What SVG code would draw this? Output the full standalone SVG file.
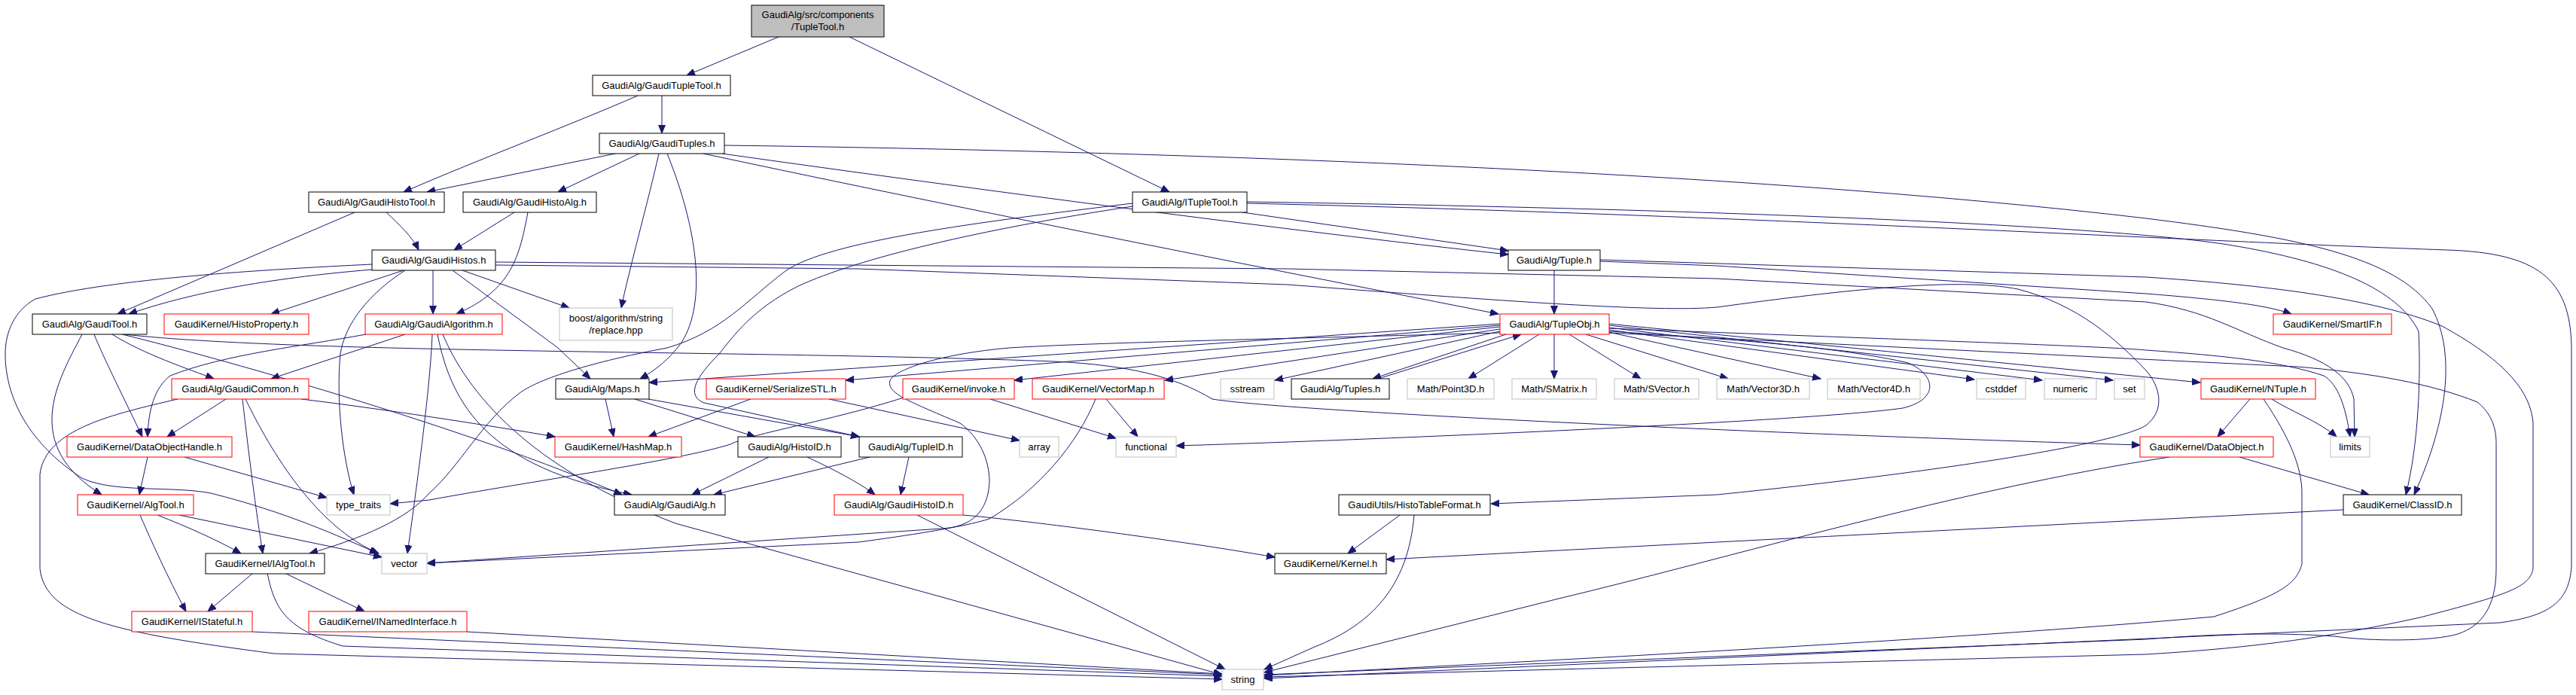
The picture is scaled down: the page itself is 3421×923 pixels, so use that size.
<svg xmlns="http://www.w3.org/2000/svg" width="3421" height="923" viewBox="0 0 3421 923">
<defs>
<marker id="ah" markerWidth="12" markerHeight="10" refX="11" refY="4.5" orient="auto" markerUnits="userSpaceOnUse">
<path d="M0,0 L11,4.5 L0,9 z" fill="#191970" stroke="#191970" stroke-width="1"/>
</marker>
</defs>
<style>
.n rect{fill:#ffffff;stroke:#000000;stroke-width:1}
.r rect{fill:#ffffff;stroke:#ff0000;stroke-width:1}
.g rect{fill:#ffffff;stroke:#bfbfbf;stroke-width:1}
.top rect{fill:#bfbfbf;stroke:#000000;stroke-width:1}
text{font-family:"Liberation Sans",Arial,Helvetica,sans-serif;font-size:13px;fill:#000000;text-anchor:middle}
#edges path{fill:none;stroke:#191970;stroke-width:1;marker-end:url(#ah)}
</style>
<rect width="3421" height="923" fill="#ffffff"/>
<g id="edges">
<path d="M1034,49 L912,100"/>
<path d="M1128,49 L1553,255"/>
<path d="M879,127 L879,177"/>
<path d="M847,127 C760,165 640,210 536,255"/>
<path d="M817,204 L567,255"/>
<path d="M849,204 L741,255"/>
<path d="M875,204 C860,270 835,360 825,409"/>
<path d="M886,204 C925,300 940,400 905,455 C888,478 870,492 850,503"/>
<path d="M959,204 C1300,252 1700,305 2003,338"/>
<path d="M934,204 C1300,282 1700,360 1990,417"/>
<path d="M962,193 C1500,200 2300,225 2850,290 C3050,315 3180,340 3230,410 C3262,470 3250,560 3206,657"/>
<path d="M1656,270 C2300,285 2900,320 3250,332 C3370,336 3413,370 3415,460 L3415,752 C3412,800 3385,818 3320,827 L1679,901"/>
<path d="M1656,268 C2300,278 2800,300 2959,325 C3100,348 3185,385 3212,440 C3215,500 3212,590 3195,657"/>
<path d="M1650,282 L2003,333"/>
<path d="M1504,270 C1300,295 1100,320 1043,360 C990,400 960,440 886,462 C800,478 720,500 690,522 C640,560 610,620 570,655 C540,690 480,715 411,735"/>
<path d="M1504,274 C1300,305 1140,343 1060,380 C1000,410 975,445 955,470 C925,500 910,525 935,535 L1141,580"/>
<path d="M471,282 L156,417"/>
<path d="M513,282 C530,298 548,315 556,332"/>
<path d="M683,282 L603,332"/>
<path d="M701,282 C690,340 680,385 606,417"/>
<path d="M494,351 C350,358 150,370 47,397 C20,412 7,440 7,470 C7,530 40,590 109,635 C150,655 230,645 280,655 C380,680 450,712 502,735"/>
<path d="M494,358 C350,370 250,390 171,417"/>
<path d="M536,359 L360,417"/>
<path d="M538,359 C490,390 458,430 452,470 C446,530 455,610 470,657"/>
<path d="M575,359 L575,417"/>
<path d="M614,359 L756,409"/>
<path d="M601,359 L741,462 L784,503"/>
<path d="M658,348 L1710,357 L2280,370 L2850,401 C2930,412 2970,440 3032,462 C3090,478 3120,500 3126,530 L3127,580"/>
<path d="M658,352 L1140,357 L1710,378 C2000,400 2200,415 2280,408 C2450,385 2600,368 2680,384 C2760,405 2810,450 2850,492 C2870,515 2875,545 2850,565 C2800,595 2500,635 2280,657 L1980,669"/>
<path d="M109,444 C90,480 68,520 69,560 C70,605 100,635 135,657"/>
<path d="M125,444 C135,470 170,540 189,580"/>
<path d="M149,444 C190,470 250,490 284,503"/>
<path d="M162,444 C250,465 600,560 826,657"/>
<path d="M165,444 C400,470 1000,465 1400,480 C1500,485 1560,500 1610,530 C1700,545 2300,575 2842,591"/>
<path d="M486,444 C400,460 300,470 226,499 C205,515 197,545 196,580"/>
<path d="M538,444 L360,503"/>
<path d="M574,444 C572,500 560,600 541,735"/>
<path d="M581,444 C600,540 650,620 839,657"/>
<path d="M588,444 C620,520 700,620 897,695 L1623,896"/>
<path d="M300,530 L222,580"/>
<path d="M322,530 C330,600 340,680 349,735"/>
<path d="M326,530 C360,600 420,700 503,735"/>
<path d="M236,530 C150,550 60,570 53,630 L53,755 C60,820 150,840 364,868 L1623,902"/>
<path d="M400,530 C500,542 650,565 737,580"/>
<path d="M196,607 L185,657"/>
<path d="M245,607 L434,661"/>
<path d="M209,684 C250,700 290,718 320,735"/>
<path d="M238,684 L507,740"/>
<path d="M186,684 C210,740 235,790 247,812"/>
<path d="M336,761 L276,812"/>
<path d="M378,761 L484,812"/>
<path d="M355,761 C365,810 380,835 455,858 L1623,898"/>
<path d="M335,839 L1623,896"/>
<path d="M620,839 L1623,895"/>
<path d="M804,530 L815,580"/>
<path d="M843,530 L1003,580"/>
<path d="M861,530 L1141,580"/>
<path d="M997,530 L861,580"/>
<path d="M1101,530 L1354,585"/>
<path d="M1315,530 L1482,582"/>
<path d="M1200,528 C1100,560 1000,575 970,590 C900,612 700,640 570,664 L518,669"/>
<path d="M1469,530 L1511,580"/>
<path d="M1455,530 C1430,590 1380,650 1314,689 C1280,700 1200,712 1140,720 L567,748"/>
<path d="M1021,607 L919,657"/>
<path d="M1072,607 C1100,620 1140,640 1162,657"/>
<path d="M1155,607 L948,657"/>
<path d="M1207,607 L1196,657"/>
<path d="M1218,684 L1627,889"/>
<path d="M1279,684 C1350,690 1550,715 1693,740"/>
<path d="M1859,684 L1790,735"/>
<path d="M1878,684 C1870,780 1820,830 1746,859 L1679,889"/>
<path d="M3112,677 L2280,720 L1841,743"/>
<path d="M2974,607 L3146,657"/>
<path d="M2881,607 C2600,650 2300,740 2070,795 L1679,893"/>
<path d="M2988,530 L2945,580"/>
<path d="M3017,530 C3040,545 3080,560 3103,580"/>
<path d="M3006,530 C3040,580 3057,620 3057,655 L3057,749 C3050,775 3030,790 2940,819 C2600,850 2000,880 1679,897"/>
<path d="M2064,359 L2064,417"/>
<path d="M2125,347 L2280,353 L2850,390 C2950,398 3010,405 3043,417"/>
<path d="M2125,345 L2850,368 C3000,378 3150,395 3243,433 C3310,470 3360,510 3364,562 L3364,755 C3360,780 3330,790 3214,820 C3100,845 3000,860 2850,869 L1679,899"/>
<path d="M2136,442 C2500,460 2800,475 3050,487 C3150,495 3230,510 3290,534 C3310,550 3315,570 3315,589 L3315,755 C3315,800 3300,830 3264,842 C3230,852 3150,852 3100,845 C3000,838 2900,845 2850,849 L1679,896"/>
<path d="M2136,436 C2500,450 2800,460 2850,465 C2950,472 3030,480 3086,499 C3105,510 3115,540 3121,580"/>
<path d="M2136,440 C2300,450 2450,462 2534,482 C2570,497 2577,530 2527,542 C2400,560 1800,585 1562,592"/>
<path d="M1992,442 C1700,450 1450,455 1340,462 C1250,470 1190,490 1182,505 C1178,522 1200,530 1275,562 C1300,580 1314,610 1314,640 C1312,680 1290,700 1250,702 L567,748"/>
<path d="M2000,444 L1823,503"/>
<path d="M1830,503 L2020,444"/>
<path d="M2044,444 L1950,503"/>
<path d="M2064,444 L2064,503"/>
<path d="M2084,444 L2179,503"/>
<path d="M2106,444 L2295,503"/>
<path d="M2136,441 L2418,503"/>
<path d="M2136,438 L2622,504"/>
<path d="M2136,435 L2712,505"/>
<path d="M2136,432 L2806,505"/>
<path d="M2136,430 L2922,508"/>
<path d="M1992,440 L1693,505"/>
<path d="M1992,437 L1547,505"/>
<path d="M1992,434 L1347,505"/>
<path d="M1992,432 L1123,505"/>
<path d="M1992,430 L862,508"/>
</g>
<g id="n0" class="top"><rect x="998" y="7" width="176" height="42"/><text x="1086" y="24">GaudiAlg/src/components</text><text x="1086" y="40">/TupleTool.h</text></g>
<g id="n1" class="n"><rect x="787" y="100" width="183" height="27"/><text x="878.5" y="118">GaudiAlg/GaudiTupleTool.h</text></g>
<g id="n2" class="n"><rect x="796" y="177" width="166" height="27"/><text x="879" y="195">GaudiAlg/GaudiTuples.h</text></g>
<g id="n3" class="n"><rect x="410" y="255" width="180" height="27"/><text x="500" y="273">GaudiAlg/GaudiHistoTool.h</text></g>
<g id="n4" class="n"><rect x="615" y="255" width="177" height="27"/><text x="703.5" y="273">GaudiAlg/GaudiHistoAlg.h</text></g>
<g id="n5" class="n"><rect x="1504" y="255" width="152" height="27"/><text x="1580" y="273">GaudiAlg/ITupleTool.h</text></g>
<g id="n6" class="n"><rect x="494" y="332" width="164" height="27"/><text x="576" y="350">GaudiAlg/GaudiHistos.h</text></g>
<g id="n7" class="n"><rect x="2003" y="332" width="122" height="27"/><text x="2064" y="350">GaudiAlg/Tuple.h</text></g>
<g id="n8" class="n"><rect x="43" y="417" width="152" height="27"/><text x="119" y="435">GaudiAlg/GaudiTool.h</text></g>
<g id="n9" class="r"><rect x="218" y="417" width="192" height="27"/><text x="314" y="435">GaudiKernel/HistoProperty.h</text></g>
<g id="n10" class="r"><rect x="485" y="417" width="182" height="27"/><text x="576" y="435">GaudiAlg/GaudiAlgorithm.h</text></g>
<g id="n11" class="g"><rect x="743" y="409" width="150" height="43"/><text x="818" y="427">boost/algorithm/string</text><text x="818" y="443">/replace.hpp</text></g>
<g id="n12" class="r"><rect x="1992" y="417" width="145" height="27"/><text x="2064.5" y="435">GaudiAlg/TupleObj.h</text></g>
<g id="n13" class="r"><rect x="3019" y="417" width="157" height="27"/><text x="3097.5" y="435">GaudiKernel/SmartIF.h</text></g>
<g id="n14" class="r"><rect x="228" y="503" width="182" height="27"/><text x="319" y="521">GaudiAlg/GaudiCommon.h</text></g>
<g id="n15" class="n"><rect x="738" y="503" width="124" height="27"/><text x="800" y="521">GaudiAlg/Maps.h</text></g>
<g id="n16" class="r"><rect x="938" y="503" width="185" height="27"/><text x="1030.5" y="521">GaudiKernel/SerializeSTL.h</text></g>
<g id="n17" class="r"><rect x="1199" y="503" width="148" height="27"/><text x="1273" y="521">GaudiKernel/invoke.h</text></g>
<g id="n18" class="r"><rect x="1371" y="503" width="175" height="27"/><text x="1458.5" y="521">GaudiKernel/VectorMap.h</text></g>
<g id="n19" class="g"><rect x="1621" y="503" width="71" height="27"/><text x="1656.5" y="521">sstream</text></g>
<g id="n20" class="n"><rect x="1715" y="503" width="130" height="27"/><text x="1780" y="521">GaudiAlg/Tuples.h</text></g>
<g id="n21" class="g"><rect x="1869" y="503" width="115" height="27"/><text x="1926.5" y="521">Math/Point3D.h</text></g>
<g id="n22" class="g"><rect x="2008" y="503" width="112" height="27"/><text x="2064" y="521">Math/SMatrix.h</text></g>
<g id="n23" class="g"><rect x="2144" y="503" width="112" height="27"/><text x="2200" y="521">Math/SVector.h</text></g>
<g id="n24" class="g"><rect x="2280" y="503" width="123" height="27"/><text x="2341.5" y="521">Math/Vector3D.h</text></g>
<g id="n25" class="g"><rect x="2427" y="503" width="123" height="27"/><text x="2488.5" y="521">Math/Vector4D.h</text></g>
<g id="n26" class="g"><rect x="2625" y="503" width="65" height="27"/><text x="2657.5" y="521">cstddef</text></g>
<g id="n27" class="g"><rect x="2715" y="503" width="69" height="27"/><text x="2749.5" y="521">numeric</text></g>
<g id="n28" class="g"><rect x="2808" y="503" width="40" height="27"/><text x="2828" y="521">set</text></g>
<g id="n29" class="r"><rect x="2923" y="503" width="152" height="27"/><text x="2999" y="521">GaudiKernel/NTuple.h</text></g>
<g id="n30" class="r"><rect x="89" y="580" width="219" height="27"/><text x="198.5" y="598">GaudiKernel/DataObjectHandle.h</text></g>
<g id="n31" class="r"><rect x="737" y="580" width="168" height="27"/><text x="821" y="598">GaudiKernel/HashMap.h</text></g>
<g id="n32" class="n"><rect x="980" y="580" width="137" height="27"/><text x="1048.5" y="598">GaudiAlg/HistoID.h</text></g>
<g id="n33" class="n"><rect x="1141" y="580" width="137" height="27"/><text x="1209.5" y="598">GaudiAlg/TupleID.h</text></g>
<g id="n34" class="g"><rect x="1354" y="580" width="52" height="27"/><text x="1380" y="598">array</text></g>
<g id="n35" class="g"><rect x="1482" y="580" width="80" height="27"/><text x="1522" y="598">functional</text></g>
<g id="n36" class="r"><rect x="2842" y="580" width="177" height="27"/><text x="2930.5" y="598">GaudiKernel/DataObject.h</text></g>
<g id="n37" class="g"><rect x="3095" y="580" width="52" height="27"/><text x="3121" y="598">limits</text></g>
<g id="n38" class="r"><rect x="103" y="657" width="154" height="27"/><text x="180" y="675">GaudiKernel/AlgTool.h</text></g>
<g id="n39" class="g"><rect x="434" y="657" width="84" height="27"/><text x="476" y="675">type_traits</text></g>
<g id="n40" class="n"><rect x="816" y="657" width="147" height="27"/><text x="889.5" y="675">GaudiAlg/GaudiAlg.h</text></g>
<g id="n41" class="r"><rect x="1108" y="657" width="171" height="27"/><text x="1193.5" y="675">GaudiAlg/GaudiHistoID.h</text></g>
<g id="n42" class="n"><rect x="1778" y="657" width="201" height="27"/><text x="1878.5" y="675">GaudiUtils/HistoTableFormat.h</text></g>
<g id="n43" class="n"><rect x="3112" y="657" width="157" height="27"/><text x="3190.5" y="675">GaudiKernel/ClassID.h</text></g>
<g id="n44" class="n"><rect x="273" y="735" width="158" height="27"/><text x="352" y="753">GaudiKernel/IAlgTool.h</text></g>
<g id="n45" class="g"><rect x="507" y="735" width="60" height="27"/><text x="537" y="753">vector</text></g>
<g id="n46" class="n"><rect x="1693" y="735" width="148" height="27"/><text x="1767" y="753">GaudiKernel/Kernel.h</text></g>
<g id="n47" class="r"><rect x="175" y="812" width="160" height="27"/><text x="255" y="830">GaudiKernel/IStateful.h</text></g>
<g id="n48" class="r"><rect x="410" y="812" width="210" height="27"/><text x="515" y="830">GaudiKernel/INamedInterface.h</text></g>
<g id="n49" class="g"><rect x="1623" y="889" width="55" height="27"/><text x="1650.5" y="907">string</text></g>
</svg>
